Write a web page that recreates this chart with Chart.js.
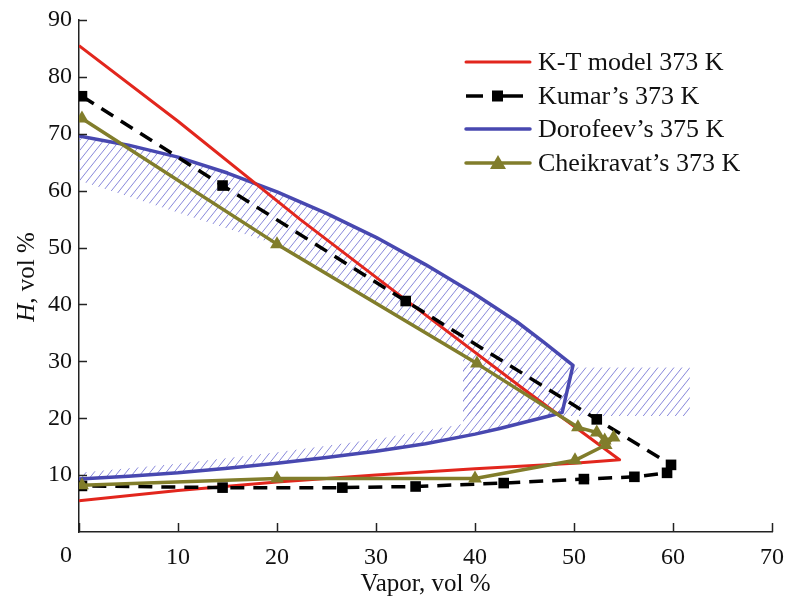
<!DOCTYPE html>
<html><head><meta charset="utf-8">
<script src="https://cdn.jsdelivr.net/npm/chart.js@4.4.1/dist/chart.umd.min.js"></script>
<style>html,body{margin:0;padding:0;background:#fff;}</style>
</head><body>
<canvas id="c" width="786" height="603"></canvas>
<script>
// ---- data ----
const xTickValues = [0, 10, 20, 30, 40, 50, 60, 70];
const yTickValues = [10, 20, 30, 40, 50, 60, 70, 80, 90];
const legendLabels = ["K-T model 373 K", "Kumar\u2019s 373 K", "Dorofeev\u2019s 375 K", "Cheikravat\u2019s 373 K"];

const ktX = [0, 10, 22.3, 33, 45, 54.6, 50, 40, 30, 20, 10, 0];
const ktY = [85.5, 72.2, 55.0, 40.8, 25.0, 12.7, 12.1, 11.1, 10.0, 8.8, 7.3, 5.5];

const kumarX = [0.3, 14.5, 33, 52.3, 59.8, 59.4, 56.1, 51, 42.9, 34, 26.6, 14.5, 0.3];
const kumarY = [76.6, 60.9, 40.6, 19.8, 11.8, 10.4, 9.7, 9.3, 8.6, 8.0, 7.8, 7.8, 8.1];

const doroX = [0, 5, 10, 15, 20, 25, 30, 35, 40, 44.2, 47, 49.9, 48.8, 47.5, 45, 42.5, 40, 35, 30, 25, 20, 15, 10, 5, 0];
const doroY = [69.6, 68.0, 65.9, 63.1, 59.8, 56.0, 51.8, 47.0, 41.8, 37.0, 33.3, 29.3, 21.0, 20.4, 19.3, 18.2, 17.2, 15.5, 14.2, 13.1, 12.1, 11.2, 10.4, 9.8, 9.3];

const cheiX = [0.3, 20, 40.2, 50.4, 52.3, 53.1, 54.0, 53.2, 50.1, 40, 20, 0.3];
const cheiY = [72.7, 50.6, 29.6, 18.4, 17.5, 16.1, 16.6, 15.3, 12.6, 9.4, 9.4, 8.2];

// hatched zone of Dorofeev's region
const hatchAX = [0, 5, 10, 15, 20, 25, 30, 35, 40, 44.2, 47, 49.9, 48.8, 47.5, 45, 42.5, 40, 38.8, 35, 30, 25, 20, 15, 10, 5, 0, 0, 10, 20, 30, 38.8, 38.8, 19.5, 0];
const hatchAY = [69.6, 68.0, 65.9, 63.1, 59.8, 56.0, 51.8, 47.0, 41.8, 37.0, 33.3, 29.3, 21.0, 20.4, 19.3, 18.2, 17.2, 16.8, 15.5, 14.2, 13.1, 12.1, 11.2, 10.4, 9.8, 9.3, 10.4, 12.0, 14.0, 16.3, 19.0, 31.0, 50.8, 61.8];
const hatchBX = [38.8, 61.7, 61.7, 38.8];
const hatchBY = [20.4, 20.4, 28.9, 28.9];

const zip = (xs, ys) => xs.map((x, i) => ({x: x, y: ys[i]}));

// ---- hatch pattern ----
function makeHatch() {
  const W = 8, H = 10;
  const c = document.createElement('canvas');
  c.width = W; c.height = H;
  const g = c.getContext('2d');
  g.strokeStyle = '#8888da';
  g.lineWidth = 1.0;
  for (let k = -1; k <= 1; k++) {
    g.beginPath();
    g.moveTo(k * W, H);
    g.lineTo(k * W + W, 0);
    g.stroke();
  }
  return g.createPattern(c, 'repeat');
}
const hatch = makeHatch();

const RED = '#e2261d', BLUE = '#4848b0', OLIVE = '#817d2b', BLACK = '#000000';
const SERIF = '"Liberation Serif", "DejaVu Serif", serif';

const extras = {
  id: 'extras',
  afterDraw(chart) {
    const ctx = chart.ctx;
    const xs = chart.scales.x, ys = chart.scales.y;
    const left = chart.chartArea.left, bottom = chart.chartArea.bottom;
    ctx.save();
    // inward tick marks
    ctx.strokeStyle = '#222';
    ctx.lineWidth = 1.5;
    xTickValues.forEach(v => {
      const p = Math.round(xs.getPixelForValue(v)) + 0.5;
      ctx.beginPath(); ctx.moveTo(p, bottom); ctx.lineTo(p, bottom - 9); ctx.stroke();
    });
    yTickValues.forEach(v => {
      const p = Math.round(ys.getPixelForValue(v)) + 0.5;
      ctx.beginPath(); ctx.moveTo(left, p); ctx.lineTo(left + 8, p); ctx.stroke();
    });
    // origin label
    ctx.fillStyle = '#111';
    ctx.font = '24px ' + SERIF;
    ctx.textAlign = 'center';
    ctx.textBaseline = 'middle';
    ctx.fillText('0', xs.getPixelForValue(0) - 13, bottom + 24);
    // y title with italic H
    ctx.translate(27, 277);
    ctx.rotate(-Math.PI / 2);
    ctx.textBaseline = 'middle';
    ctx.textAlign = 'left';
    const fI = 'italic 25px ' + SERIF, fN = '25px ' + SERIF;
    ctx.font = fI; const w1 = ctx.measureText('H').width;
    ctx.font = fN; const w2 = ctx.measureText(', vol %').width;
    const start = -(w1 + w2) / 2;
    ctx.font = fI; ctx.fillText('H', start, 0);
    ctx.font = fN; ctx.fillText(', vol %', start + w1, 0);
    ctx.restore();

    // legend
    ctx.save();
    const lx0 = 466, lx1 = 530, tx = 538;
    const rows = [62, 96, 129, 163];
    ctx.font = '26px ' + SERIF;
    ctx.fillStyle = '#111';
    ctx.textBaseline = 'middle';
    ctx.textAlign = 'left';
    ctx.lineCap = 'round';
    // K-T
    ctx.strokeStyle = RED; ctx.lineWidth = 3;
    ctx.beginPath(); ctx.moveTo(lx0, rows[0]); ctx.lineTo(lx1, rows[0]); ctx.stroke();
    // Kumar
    ctx.strokeStyle = BLACK; ctx.lineWidth = 3.5; ctx.lineCap = 'butt';
    ctx.beginPath(); ctx.moveTo(466, rows[1]); ctx.lineTo(483, rows[1]); ctx.stroke();
    ctx.beginPath(); ctx.moveTo(503, rows[1]); ctx.lineTo(523, rows[1]); ctx.stroke();
    ctx.fillStyle = BLACK; ctx.fillRect(492, rows[1] - 5.5, 11, 11);
    // Dorofeev
    ctx.lineCap = 'round';
    ctx.strokeStyle = BLUE; ctx.lineWidth = 3.5;
    ctx.beginPath(); ctx.moveTo(lx0, rows[2]); ctx.lineTo(lx1, rows[2]); ctx.stroke();
    // Cheikravat
    ctx.strokeStyle = OLIVE; ctx.lineWidth = 3.5;
    ctx.beginPath(); ctx.moveTo(lx0, rows[3]); ctx.lineTo(lx1, rows[3]); ctx.stroke();
    ctx.fillStyle = OLIVE;
    ctx.beginPath(); ctx.moveTo(498, rows[3] - 8); ctx.lineTo(506, rows[3] + 6); ctx.lineTo(490, rows[3] + 6); ctx.closePath(); ctx.fill();
    ctx.fillStyle = '#111';
    legendLabels.forEach((t, i) => ctx.fillText(t, tx, rows[i] + 1));
    ctx.restore();
  }
};

new Chart(document.getElementById('c'), {
  type: 'scatter',
  data: {
    datasets: [
      { label: 'hatchA', data: zip(hatchAX, hatchAY), showLine: true, fill: 'shape', backgroundColor: hatch,
        borderColor: 'rgba(0,0,0,0)', borderWidth: 1, pointRadius: 0, order: 10 },
      { label: 'hatchB', data: zip(hatchBX, hatchBY), showLine: true, fill: 'shape', backgroundColor: hatch,
        borderColor: 'rgba(0,0,0,0)', borderWidth: 1, pointRadius: 0, order: 9 },
      { label: legendLabels[2], data: zip(doroX, doroY), showLine: true, borderColor: BLUE, borderWidth: 3.5,
        pointRadius: 0, fill: false, order: 5 },
      { label: legendLabels[0], data: zip(ktX, ktY), showLine: true, borderColor: RED, borderWidth: 3,
        pointRadius: 0, fill: false, order: 4 },
      { label: legendLabels[1], data: zip(kumarX, kumarY), showLine: true, borderColor: BLACK, borderWidth: 3.5,
        borderDash: [14, 9], pointStyle: 'rect', pointRadius: 7.5, pointBackgroundColor: BLACK, pointBorderWidth: 0,
        fill: false, order: 3 },
      { label: legendLabels[3], data: zip(cheiX, cheiY), showLine: true, borderColor: OLIVE, borderWidth: 3.5,
        pointStyle: 'triangle', pointRadius: 8, pointBackgroundColor: OLIVE, pointBorderWidth: 0,
        fill: false, order: 2 }
    ]
  },
  options: {
    responsive: false,
    animation: false,
    devicePixelRatio: 1,
    layout: { padding: { top: 20, right: 14, left: 0, bottom: 0 } },
    plugins: { legend: { display: false }, tooltip: { enabled: false } },
    elements: { line: { tension: 0, borderJoinStyle: 'round' } },
    scales: {
      x: {
        type: 'linear', min: 0, max: 70,
        afterFit: s => { s.height = 71; s.paddingLeft = 0; s.paddingRight = 0; },
        afterBuildTicks: s => { s.ticks = xTickValues.map(v => ({value: v})); },
        ticks: { padding: 11, color: '#111', font: { family: SERIF, size: 24 },
                 callback: v => (v === 0 ? '' : String(v)) },
        grid: { drawOnChartArea: false, drawTicks: false },
        border: { color: '#222', width: 1.5 },
        title: { display: true, text: 'Vapor, vol %', color: '#111', font: { family: SERIF, size: 25 }, padding: { top: 2 } }
      },
      y: {
        type: 'linear', min: 0, max: 90,
        afterFit: s => { s.width = 79; s.paddingTop = 0; s.paddingBottom = 0; },
        afterBuildTicks: s => { s.ticks = yTickValues.map(v => ({value: v})); },
        ticks: { padding: 7, color: '#111', font: { family: SERIF, size: 24 } },
        grid: { drawOnChartArea: false, drawTicks: false },
        border: { color: '#222', width: 1.5 }
      }
    }
  },
  plugins: [extras]
});
</script>
</body></html>
